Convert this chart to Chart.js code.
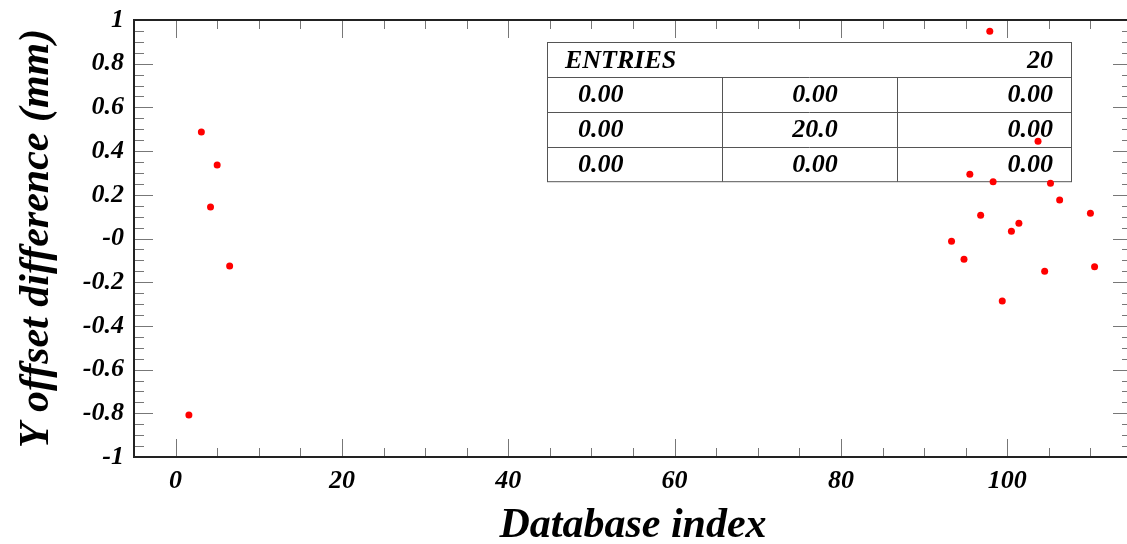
<!DOCTYPE html>
<html>
<head>
<meta charset="utf-8">
<script src="https://cdn.jsdelivr.net/npm/chart.js@4/dist/chart.umd.min.js"></script>
<style>
  html,body{margin:0;padding:0;background:#fff;overflow:hidden;}
  #wrap{width:1140px;height:544px;}
</style>
</head>
<body>
<div id="wrap"><canvas id="c" width="1140" height="544"></canvas></div>
<script>
/* ---------- data ---------- */
const dbIndex = [1.6, 3.1, 5.0, 4.2, 6.5,
                 97.9, 103.7, 95.5, 98.3, 105.2, 106.3, 96.8, 110.0, 101.4, 100.5, 93.3, 94.8, 104.5, 110.5, 99.4];
const yOffset = [-0.808, 0.487, 0.336, 0.144, -0.126,
                 0.948, 0.445, 0.294, 0.260, 0.253, 0.176, 0.106, 0.115, 0.070, 0.033, -0.013, -0.095, -0.150, -0.129, -0.286];

const xTickVals   = [0, 20, 40, 60, 80, 100];
const yTickVals   = [-1, -0.8, -0.6, -0.4, -0.2, 0, 0.2, 0.4, 0.6, 0.8, 1];
const yTickLabels = ['-1','-0.8','-0.6','-0.4','-0.2','-0','0.2','0.4','0.6','0.8','1'];

const statsHead = ['ENTRIES', '20'];
const statsRows = [['0.00','0.00','0.00'],
                   ['0.00','20.0','0.00'],
                   ['0.00','0.00','0.00']];

/* ---------- style ---------- */
const serif = '"Liberation Serif","Times New Roman",serif';
const tickFont  = {family:serif, size:26, weight:'bold', style:'italic', lineHeight:1};
const titleFont = {family:serif, size:42, weight:'bold', style:'italic', lineHeight:1.2};

/* frame + inner ticks like ROOT */
const frame = {
  id:'frame',
  afterDatasetsDraw(chart){
    const {ctx, chartArea:a, scales:{x, y}} = chart;
    ctx.save();
    ctx.strokeStyle = '#777'; ctx.lineWidth = 1;
    ctx.beginPath();
    for(let v=-5; v<=115; v+=5){
      const px = Math.round(x.getPixelForValue(v)) + .5;
      const len = v % 20 === 0 ? 18 : 9;
      ctx.moveTo(px, a.bottom); ctx.lineTo(px, a.bottom - len);
      ctx.moveTo(px, a.top);    ctx.lineTo(px, a.top + len);
    }
    for(let k=-20; k<=20; k++){
      const py = Math.round(y.getPixelForValue(k*0.05)) + .5;
      const len = k % 4 === 0 ? 19 : 10;
      ctx.moveTo(a.left, py);  ctx.lineTo(a.left + len, py);
      ctx.moveTo(a.right, py); ctx.lineTo(a.right - len, py);
    }
    ctx.stroke();
    ctx.strokeStyle = '#222'; ctx.lineWidth = 2;
    ctx.strokeRect(a.left, a.top, a.right - a.left, a.bottom - a.top);
    ctx.restore();
  }
};

/* stats box */
const stats = {
  id:'stats',
  beforeDatasetsDraw(chart){
    const ctx = chart.ctx;
    const L = 547.5, R = 1071.5, T = 42.5, rowH = 34.8;
    const c1 = 722.5, c2 = 897.5;
    ctx.save();
    ctx.strokeStyle = '#555'; ctx.lineWidth = 1;
    ctx.strokeRect(L, T, R - L, rowH * 4);
    ctx.beginPath();
    for(let i=1;i<4;i++){
      const yy = Math.round(T + rowH*i) + .5;
      ctx.moveTo(L, yy); ctx.lineTo(R, yy);
    }
    ctx.moveTo(c1, T + rowH); ctx.lineTo(c1, T + rowH*4);
    ctx.moveTo(c2, T + rowH); ctx.lineTo(c2, T + rowH*4);
    ctx.stroke();

    ctx.fillStyle = '#000';
    ctx.font = `italic bold 26px ${serif}`;
    ctx.textBaseline = 'middle';
    ctx.textAlign = 'left';
    ctx.fillText(statsHead[0], 565, T + rowH/2 + 1);
    ctx.textAlign = 'right';
    ctx.fillText(statsHead[1], 1053, T + rowH/2 + 1);
    statsRows.forEach((r,i)=>{
      const yy = T + rowH*(i+1.5) + 1;
      ctx.textAlign = 'left';   ctx.fillText(r[0], 578, yy);
      ctx.textAlign = 'center'; ctx.fillText(r[1], 815, yy);
      ctx.textAlign = 'right';  ctx.fillText(r[2], 1053, yy);
    });
    ctx.restore();
  }
};

const noEdgePad = s => { s.paddingTop = 0; s.paddingBottom = 0; s.paddingLeft = 0; s.paddingRight = 0; };

new Chart(document.getElementById('c'), {
  type:'scatter',
  data:{
    datasets:[{
      data: dbIndex.map((v,i)=>({x:v, y:yOffset[i]})),
      backgroundColor:'#ff0000',
      borderWidth:0,
      pointRadius:3.5,
      pointHoverRadius:3.5
    }]
  },
  options:{
    responsive:false,
    devicePixelRatio:1,
    animation:false,
    events:[],
    layout:{padding:{left:0, top:20, right:8, bottom:0}},
    plugins:{legend:{display:false}, tooltip:{enabled:false}},
    scales:{
      x:{
        type:'linear', min:-5, max:115,
        afterBuildTicks: s => { s.ticks = xTickVals.map(v=>({value:v})); },
        afterFit: s => { s.height = 87; noEdgePad(s); },
        grid:{display:false, drawTicks:false},
        border:{display:false},
        ticks:{color:'#000', font:tickFont, padding:11, maxRotation:0, autoSkip:false},
        title:{display:true, text:'Database index', color:'#000', font:{...titleFont, lineHeight:0.86}, padding:0}
      },
      y:{
        type:'linear', min:-1, max:1,
        afterBuildTicks: s => { s.ticks = yTickVals.map(v=>({value:v})); },
        afterFit: s => { s.width = 134; noEdgePad(s); },
        grid:{display:false, drawTicks:false},
        border:{display:false},
        ticks:{color:'#000', font:tickFont, padding:10, autoSkip:false,
               callback:(v,i)=>yTickLabels[i]},
        title:{display:true, text:'Y offset difference (mm)', color:'#000', font:titleFont, padding:{top:12, bottom:0}}
      }
    }
  },
  plugins:[stats, frame]
});
</script>
</body>
</html>
